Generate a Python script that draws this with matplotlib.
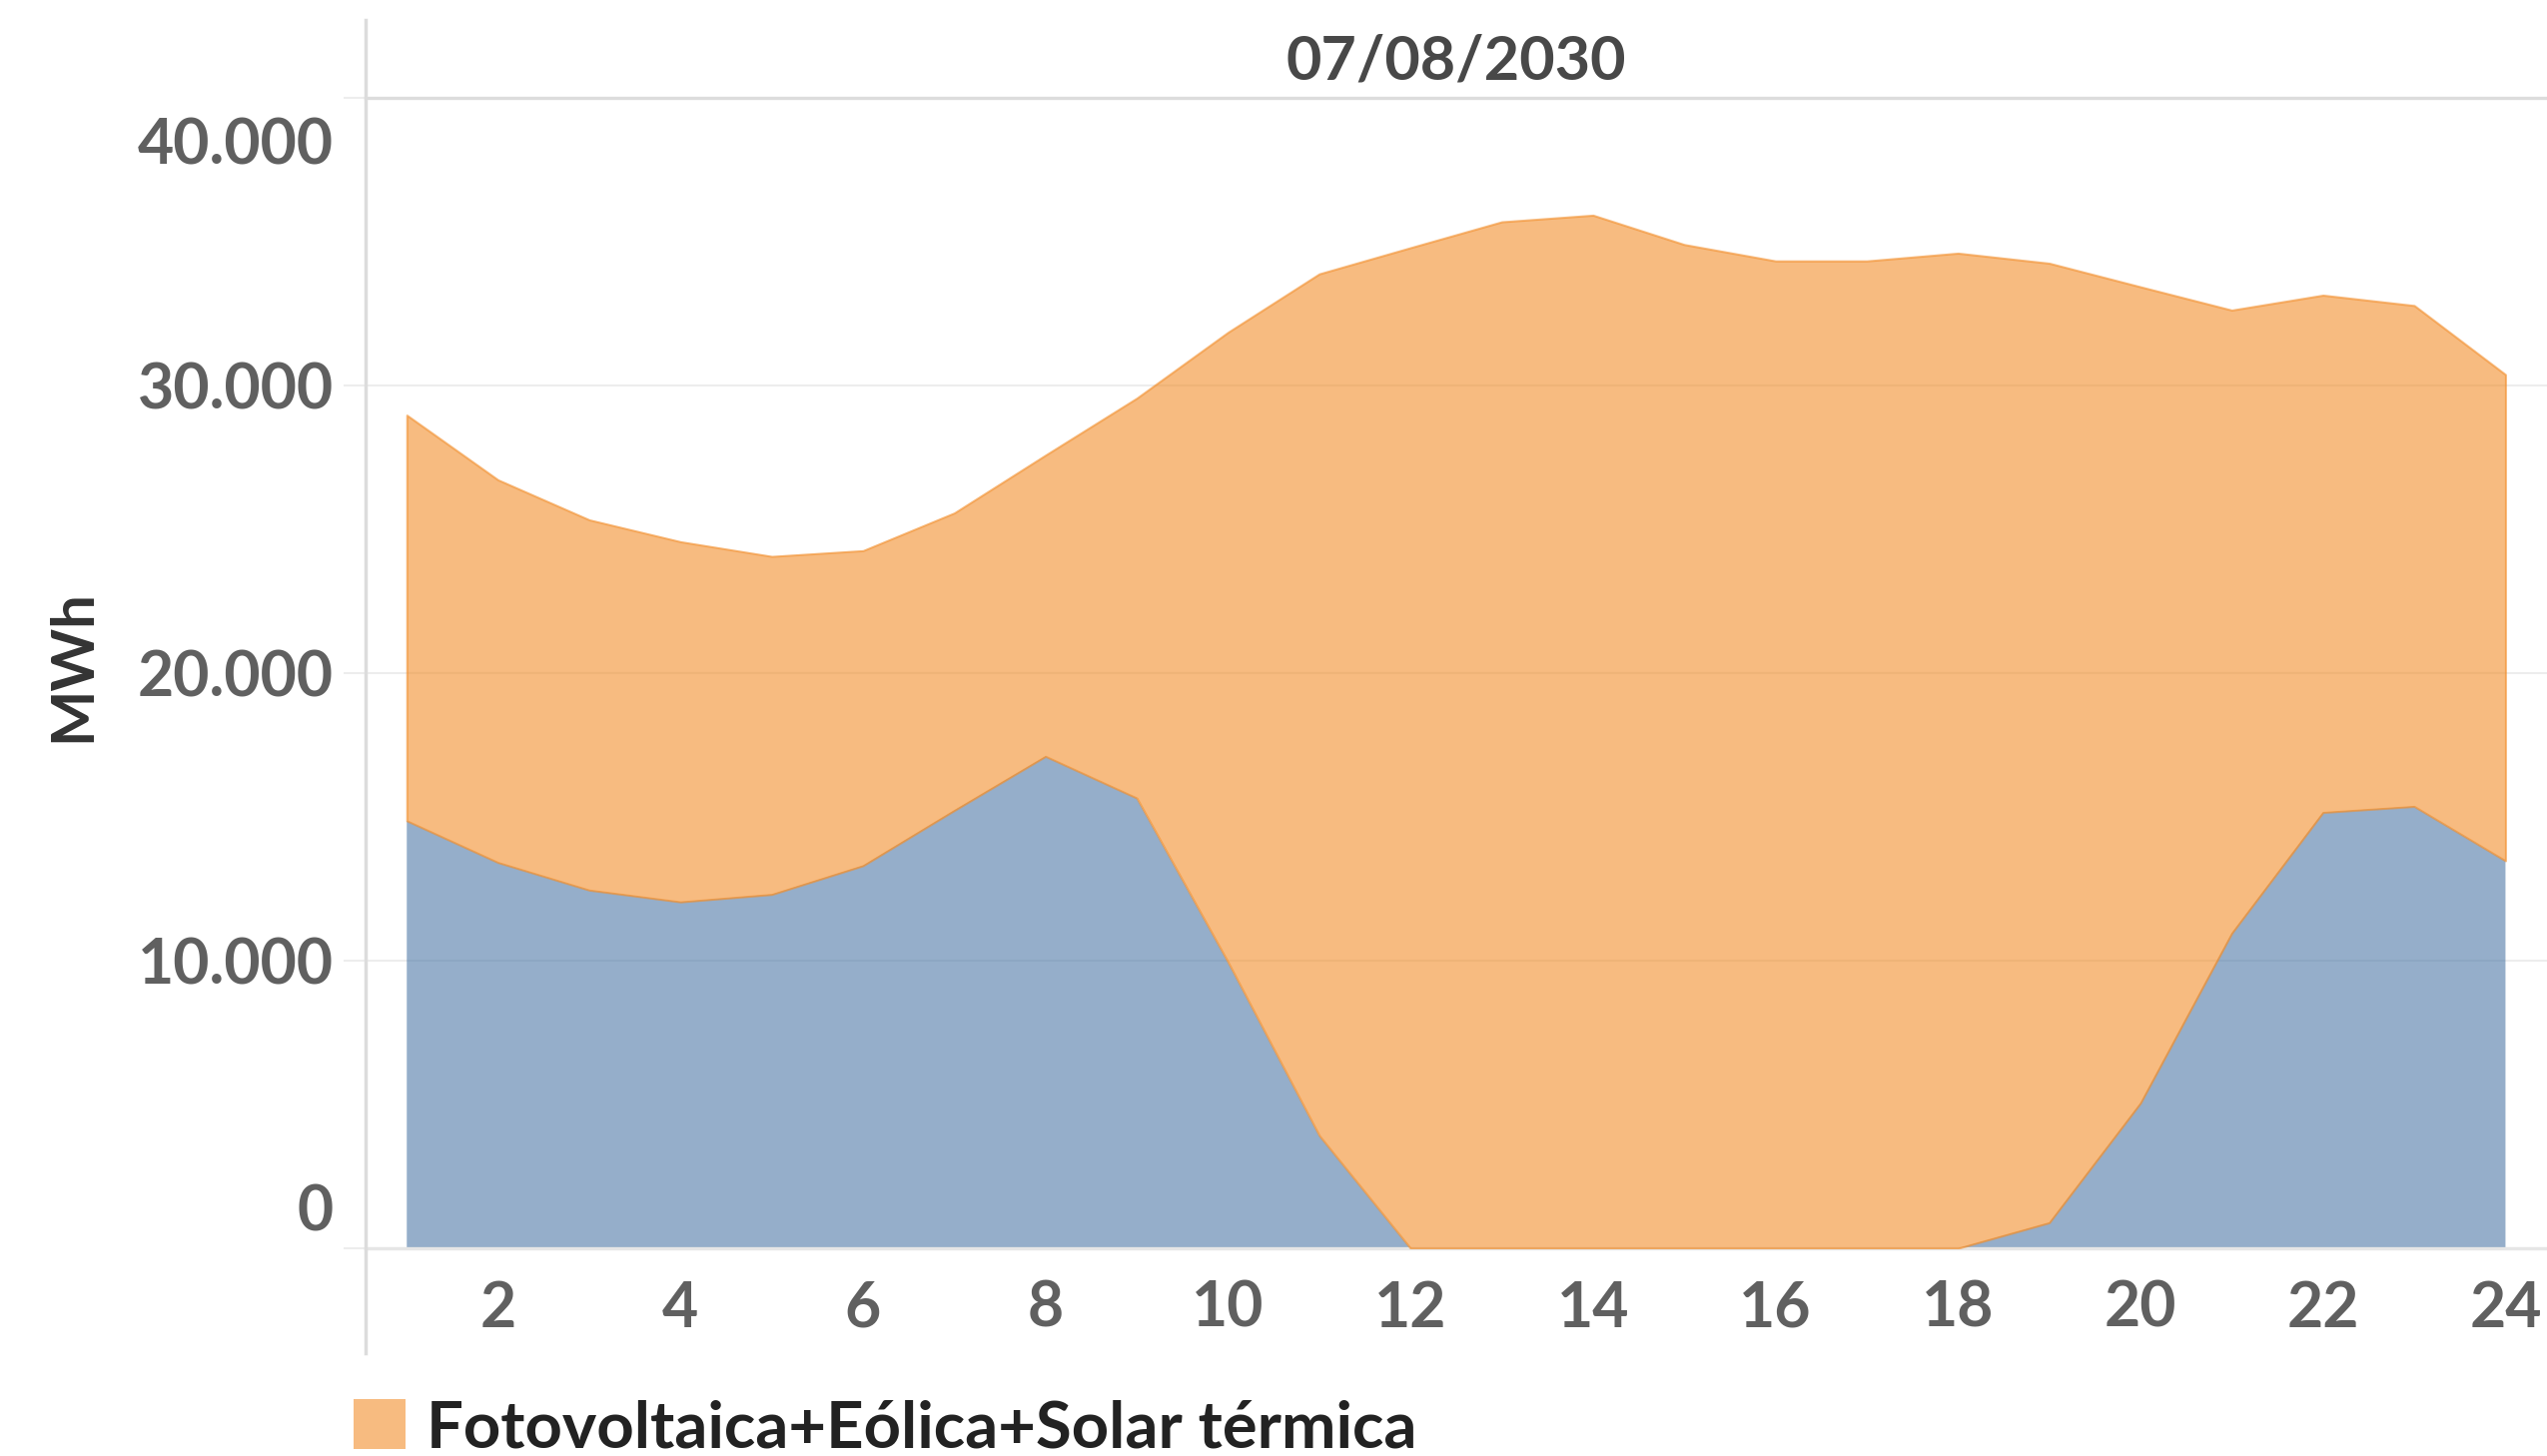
import matplotlib
matplotlib.use("Agg")
import matplotlib.pyplot as plt
from matplotlib.patches import Patch
from matplotlib.lines import Line2D
from matplotlib.colors import to_rgba
from matplotlib.ticker import FuncFormatter
from matplotlib.transforms import ScaledTranslation

# Hourly generation for 07/08/2030 (MWh)
hours = [1, 2, 3, 4, 5, 6, 7, 8, 9, 10, 11, 12,
         13, 14, 15, 16, 17, 18, 19, 20, 21, 22, 23, 24]
otras = [14860, 13410, 12450, 12040, 12300, 13300, 15220, 17100, 15650, 9950, 3920, 0,
         0, 0, 0, 0, 0, 0, 890, 5050, 10950, 15150, 15360, 13470]
renovables = [14100, 13300, 12870, 12520, 11750, 10950, 10340, 10470, 13900, 21890, 29950, 34780,
              35680, 35910, 34890, 34320, 34320, 34590, 33350, 28370, 21660, 17980, 17410, 16900]
y_ticks = [0, 10000, 20000, 30000, 40000]
x_ticks = [2, 4, 6, 8, 10, 12, 14, 16, 18, 20, 22, 24]
fecha = "07/08/2030"
etiqueta_renovables = "Fotovoltaica+Eólica+Solar térmica"

BLUE = "#4E79A7"
ORANGE = "#F28E2B"
ALPHA = 0.6

plt.rcParams['font.family'] = ['Lato', 'DejaVu Sans']

W, H = 2550, 1458
fig = plt.figure(figsize=(W / 100, H / 100), dpi=100)

x_left = 365.7
y_zero = 1250
y_top = 97.6
ax = fig.add_axes([x_left / W, (H - y_zero) / H, (W - x_left) / W, (y_zero - y_top) / H])

total = [o + r for o, r in zip(otras, renovables)]

ax.fill_between(hours, 0, otras, facecolor=to_rgba(BLUE, ALPHA), edgecolor='none', lw=0, zorder=2)
ax.fill_between(hours, otras, total, facecolor=to_rgba(ORANGE, ALPHA),
                edgecolor=to_rgba(ORANGE, ALPHA), lw=1.5, zorder=3)

ax.set_xlim(0.545, 24.455)
ax.set_ylim(0, 40000)

ax.set_yticks(y_ticks)
ax.yaxis.set_major_formatter(FuncFormatter(lambda v, p: f"{v:,.0f}".replace(",", ".")))
ax.set_xticks(x_ticks)

ax.grid(axis='y', color='#EDEDED', lw=1.5, zorder=0)
ax.set_axisbelow(True)

for side in ('left', 'right'):
    ax.spines[side].set_visible(False)
ax.spines['top'].set_color('#DCDCDC')
ax.spines['top'].set_linewidth(2.4)
ax.spines['bottom'].set_color('#E6E6E6')
ax.spines['bottom'].set_linewidth(2.4)

ax.tick_params(axis='y', length=16, width=1.5, color='#EDEDED', pad=7,
               labelsize=45, labelcolor='#606060')
ax.tick_params(axis='x', length=0, pad=23, labelsize=45, labelcolor='#606060')
for lab in ax.get_yticklabels() + ax.get_xticklabels():
    lab.set_fontweight('bold')

# pull the end labels of the value axis inside the pane
yt = ax.yaxis.get_major_ticks()
yt[0].label1.set_transform(yt[0].label1.get_transform() + ScaledTranslation(0, 0.41, fig.dpi_scale_trans))
yt[-1].label1.set_transform(yt[-1].label1.get_transform() + ScaledTranslation(0, -0.43, fig.dpi_scale_trans))

# row divider running through header and axis area
fig.add_artist(Line2D([x_left / W] * 2, [1 - 20 / H, 1 - 1355 / H],
                      color='#DCDCDC', lw=2.5, transform=fig.transFigure))

fig.text((x_left + W) / 2 / W, 1 - 62 / H, fecha, ha='center', va='center',
         fontsize=44, color='#484848', fontweight='bold')

fig.text(73 / W, 1 - 667 / H, "MWh", rotation=90, ha='center', va='center',
         fontsize=43, fontweight='bold', color='#333333')

fig.legend(handles=[Patch(facecolor=to_rgba(ORANGE, ALPHA), edgecolor='none',
                          label=etiqueta_renovables)],
           loc='lower left', bbox_to_anchor=(354 / W, -2 / H), frameon=False,
           prop={'size': 47, 'weight': 'bold'}, labelcolor='#222222',
           handlelength=0.8, handleheight=0.8, handletextpad=0.32,
           borderpad=0, borderaxespad=0)

fig.savefig("out.png", dpi=100, facecolor='white')
